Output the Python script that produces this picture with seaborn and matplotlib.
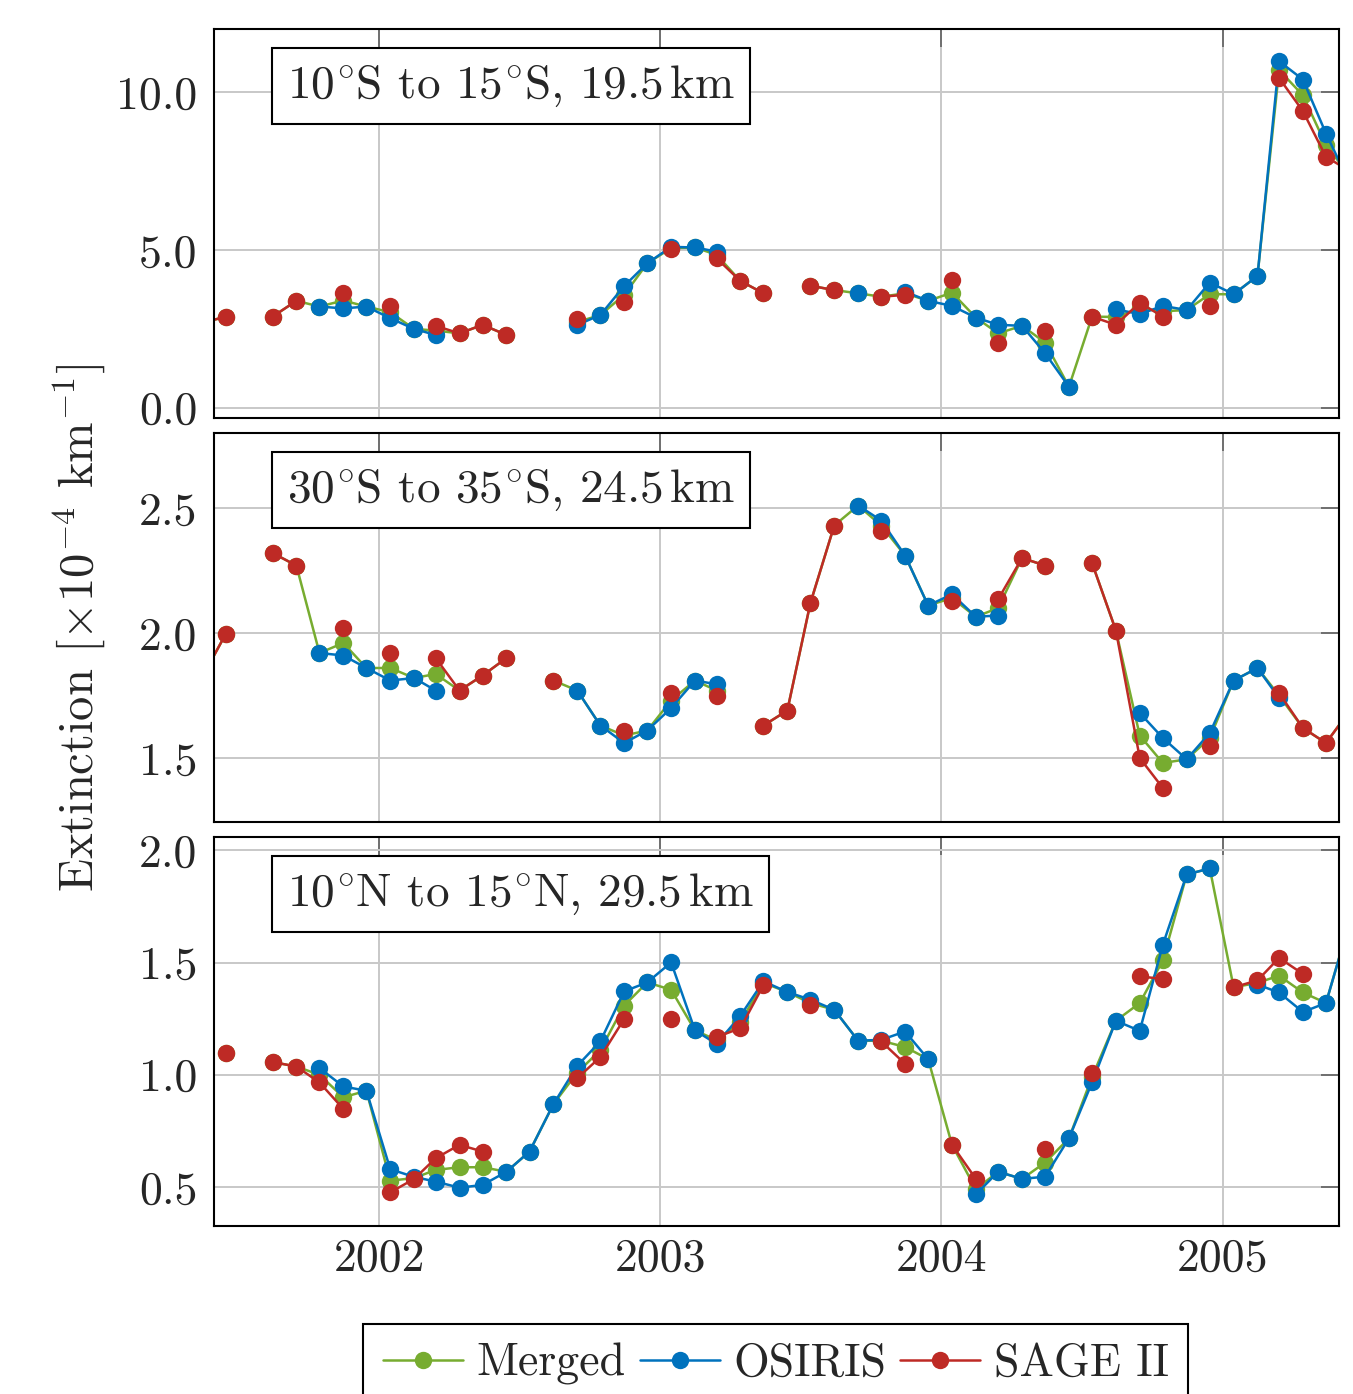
import numpy as np
import pandas as pd
import matplotlib
matplotlib.use("Agg")
import matplotlib.pyplot as plt
import matplotlib.dates as mdates
from matplotlib.lines import Line2D
import seaborn as sns

nan = np.nan

# monthly means, May 2001 .. June 2005 (mid-month)
months = pd.date_range("2001-05-01", periods=50, freq="MS") + pd.Timedelta(days=14)

# 10S to 15S, 19.5 km
merged_1 = [2.70, 2.88, nan, 2.89, 3.39, 3.21, 3.40, 3.21, 3.03, 2.50,
            2.45, 2.36, 2.63, 2.31, nan, nan, 2.72, 2.94, 3.58, 4.58,
            5.06, 5.08, 4.85, 4.02, 3.63, nan, 3.87, 3.73, 3.63, 3.52,
            3.63, 3.39, 3.65, 2.86, 2.36, 2.60, 2.07, 0.67, 2.89, 2.88,
            3.15, 3.06, 3.10, 3.60, 3.60, 4.18, 10.70, 9.90, 8.32, 7.35]
osiris_1 = [nan, nan, nan, nan, nan, 3.21, 3.15, 3.21, 2.84, 2.50,
            2.31, nan, nan, nan, nan, nan, 2.63, 2.94, 3.86, 4.58,
            5.10, 5.08, 4.95, nan, nan, nan, nan, nan, 3.63, nan,
            3.68, 3.39, 3.23, 2.86, 2.63, 2.60, 1.73, 0.67, nan, 3.12,
            2.97, 3.23, 3.10, 3.97, 3.60, 4.18, 10.98, 10.40, 8.69, 7.10]
sage_1 = [2.70, 2.88, nan, 2.89, 3.39, nan, 3.63, nan, 3.23, nan,
          2.60, 2.36, 2.63, 2.31, nan, nan, 2.81, nan, 3.36, nan,
          5.02, nan, 4.74, 4.02, 3.63, nan, 3.87, 3.73, nan, 3.52,
          3.58, nan, 4.05, nan, 2.05, nan, 2.42, nan, 2.89, 2.63,
          3.33, 2.89, nan, 3.23, nan, nan, 10.45, 9.40, 7.95, 7.50]

# 30S to 35S, 24.5 km
merged_2 = [1.82, 1.995, nan, 2.32, 2.27, 1.92, 1.96, 1.86, 1.86, 1.82,
            1.836, 1.77, 1.83, 1.90, nan, 1.81, 1.77, 1.63, 1.59, 1.61,
            1.73, 1.81, 1.77, nan, 1.63, 1.69, 2.12, 2.43, 2.51, 2.43,
            2.31, 2.11, 2.14, 2.065, 2.10, 2.30, 2.27, nan, 2.28, 2.01,
            1.59, 1.48, 1.495, 1.58, 1.81, 1.86, 1.75, 1.62, 1.56, 1.69]
osiris_2 = [nan, nan, nan, nan, nan, 1.92, 1.91, 1.86, 1.81, 1.82,
            1.77, nan, nan, nan, nan, nan, 1.77, 1.63, 1.56, 1.61,
            1.70, 1.81, 1.795, nan, nan, nan, nan, nan, 2.51, 2.45,
            2.31, 2.11, 2.155, 2.065, 2.07, nan, nan, nan, nan, nan,
            1.68, 1.58, 1.495, 1.60, 1.81, 1.86, 1.74, nan, nan, nan]
sage_2 = [1.82, 1.995, nan, 2.32, 2.27, nan, 2.02, nan, 1.92, nan,
          1.90, 1.77, 1.83, 1.90, nan, 1.81, nan, nan, 1.61, nan,
          1.76, nan, 1.75, nan, 1.63, 1.69, 2.12, 2.43, nan, 2.41,
          nan, nan, 2.13, nan, 2.135, 2.30, 2.27, nan, 2.28, 2.01,
          1.50, 1.38, nan, 1.55, nan, nan, 1.76, 1.62, 1.56, 1.69]

# 10N to 15N, 29.5 km
merged_3 = [nan, 1.097, nan, 1.057, 1.037, 1.00, 0.90, 0.929, 0.528, 0.54,
            0.576, 0.588, 0.588, 0.568, 0.658, 0.869, 1.01, 1.11, 1.309, 1.412,
            1.379, 1.198, 1.155, 1.235, 1.41, 1.369, 1.32, 1.29, 1.152, 1.152,
            1.124, 1.07, 0.688, 0.49, 0.568, 0.536, 0.609, 0.717, 0.99, 1.241,
            1.32, 1.51, 1.893, 1.92, 1.39, 1.41, 1.442, 1.367, 1.32, 1.685]
osiris_3 = [nan, nan, nan, nan, nan, 1.03, 0.948, 0.929, 0.579, 0.545,
            0.524, 0.497, 0.509, 0.568, 0.658, 0.869, 1.04, 1.149, 1.372, 1.412,
            1.501, 1.198, 1.138, 1.263, 1.417, 1.369, 1.335, 1.29, 1.152, 1.156,
            1.193, 1.07, nan, 0.467, 0.568, 0.536, 0.546, 0.717, 0.966, 1.241,
            1.196, 1.58, 1.893, 1.92, nan, 1.402, 1.367, 1.28, 1.32, 1.685]
sage_3 = [nan, 1.097, nan, 1.057, 1.037, 0.966, 0.848, nan, 0.476, 0.536,
          0.628, 0.688, 0.658, nan, nan, nan, 0.985, 1.079, 1.249, nan,
          1.25, nan, 1.168, 1.208, 1.40, nan, 1.31, nan, nan, 1.149,
          1.049, nan, 0.688, 0.536, nan, nan, 0.668, nan, 1.008, nan,
          1.439, 1.427, nan, nan, 1.39, 1.421, 1.521, 1.45, nan, nan]

deg = r"^{\!\circ}\!"
panel_titles = [rf"$10{deg}$S to $15{deg}$S, 19.5$\,$km",
                rf"$30{deg}$S to $35{deg}$S, 24.5$\,$km",
                rf"$10{deg}$N to $15{deg}$N, 29.5$\,$km"]
panel_data = [(merged_1, osiris_1, sage_1),
              (merged_2, osiris_2, sage_2),
              (merged_3, osiris_3, sage_3)]
panel_ylim = [(-0.32, 12.0), (1.244, 2.8), (0.326, 2.06)]
panel_yticks = [[0.0, 5.0, 10.0], [1.5, 2.0, 2.5], [0.5, 1.0, 1.5, 2.0]]

series_names = ["Merged", "OSIRIS", "SAGE II"]
colors = {"Merged": "#77AC30", "OSIRIS": "#0072BD", "SAGE II": "#BE2A25"}

sns.set_theme(style="white")
plt.rcParams["font.family"] = "serif"
plt.rcParams["font.serif"] = ["cmr10", "DejaVu Serif"]
plt.rcParams["mathtext.fontset"] = "cm"
plt.rcParams["axes.formatter.use_mathtext"] = True
fs = 33


def long_frame(values):
    # split each series at missing months so the line breaks there
    rows = []
    for name, vals in zip(series_names, values):
        s = pd.Series(vals, index=months)
        seg = s.isna().cumsum()
        d = pd.DataFrame({"date": months, "value": s.values, "series": name, "seg": seg.values})
        rows.append(d.dropna())
    return pd.concat(rows, ignore_index=True)


fig = plt.figure(figsize=(13.53, 13.94), dpi=100)
axes = fig.subplots(3, 1, sharex=True)
fig.subplots_adjust(left=0.1582, right=0.9897, top=0.9792, bottom=0.1205, hspace=0.0386)

for ax, title, vals, ylim, yt in zip(axes, panel_titles, panel_data, panel_ylim, panel_yticks):
    df = long_frame(vals)
    sns.lineplot(data=df, x="date", y="value", hue="series", hue_order=series_names,
                 units="seg", estimator=None, palette=colors, marker="o",
                 markersize=12.5, markeredgewidth=0, linewidth=1.8, legend=False, ax=ax)
    ax.set_ylim(*ylim)
    ax.set_yticks(yt)
    ax.yaxis.set_major_formatter(matplotlib.ticker.FormatStrFormatter("%.1f"))
    ax.set_xlim(pd.Timestamp("2001-05-31"), pd.Timestamp("2005-06-01"))
    ax.xaxis.set_major_locator(mdates.YearLocator())
    ax.xaxis.set_major_formatter(mdates.DateFormatter("%Y"))
    ax.set_xlabel("")
    ax.set_ylabel("")
    ax.grid(True, color="#c8c8c8", linewidth=1.4)
    ax.set_axisbelow(True)
    ax.tick_params(axis="both", which="major", direction="in", length=13, width=1.2,
                   color="#606060", labelsize=fs, top=True, right=True, pad=12)
    ax.tick_params(axis="x", pad=9)
    for sp in ax.spines.values():
        sp.set_edgecolor("black")
        sp.set_linewidth(1.5)
    ax.text(0.0649, 0.912, title, transform=ax.transAxes, ha="left", va="top",
            fontsize=fs + 1, zorder=10,
            bbox=dict(boxstyle="square,pad=0.32", facecolor="white", edgecolor="black", linewidth=1.5))

fig.text(0.059, 0.5498, r"Extinction [$\times10^{-4}$ km$^{-1}$]", rotation=90,
         ha="center", va="center", fontsize=35)

handles = [Line2D([], [], color=colors[n], marker="o", markersize=12.5, markeredgewidth=0,
                  linewidth=1.8) for n in series_names]
leg = fig.legend(handles, series_names, loc="upper center", bbox_to_anchor=(0.5735, 0.0502),
                 ncol=3, fontsize=33, frameon=True, fancybox=False, framealpha=1,
                 edgecolor="black", handlelength=1.75, handletextpad=0.3, columnspacing=0.3,
                 borderpad=0.42, borderaxespad=0)
leg.get_frame().set_linewidth(1.5)

fig.savefig("out.png", dpi=100)
